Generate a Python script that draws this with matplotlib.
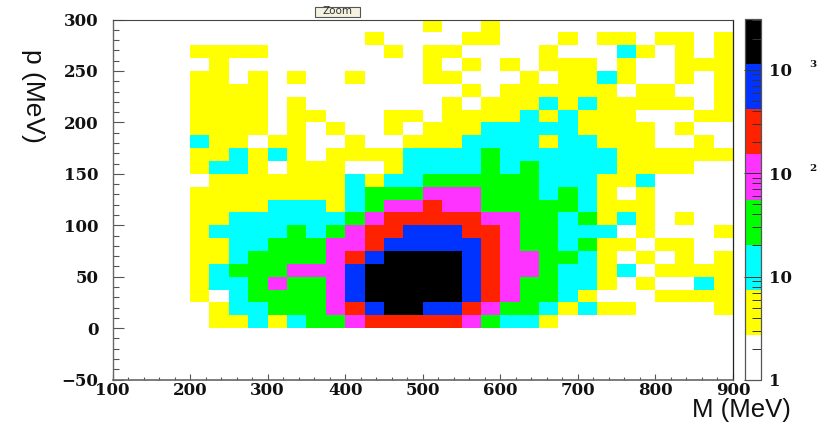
import numpy as np
import matplotlib
matplotlib.use("Agg")
import matplotlib.pyplot as plt
from matplotlib.colors import ListedColormap, LogNorm
from matplotlib.patches import Rectangle
from matplotlib.ticker import MultipleLocator, LogLocator, NullFormatter
from matplotlib.transforms import blended_transform_factory

# histogram binning (MeV)
x_edges = np.arange(200, 900 + 25, 25)
y_edges = np.arange(0, 300 + 12.5, 12.5)

# representative bin content for each colour level shown in the picture
level_counts = [0, 4, 12, 35, 100, 280, 750, 2000]

# colour level of each cell, top row (p = 287.5-300) first, M = 200...900
rows_top_down = [
    "0000000000001001000000000000",
    "0000000001" + "0000" + "11" + "000" + "1" + "0" + "11" + "0" + "11" + "0" + "1",
    "1111" + "000000" + "1" + "0" + "11" + "0000" + "1" + "000" + "2" + "1" + "0" + "1" + "0" + "1",
    "01" + "0000000000" + "1" + "0" + "1" + "0" + "1" + "0" + "111" + "0" + "1" + "00" + "111",
    "11" + "0" + "1" + "0" + "1" + "00" + "1" + "000" + "11" + "000" + "1" + "0" + "11" + "2" + "1" + "00" + "1" + "0" + "1",
    "1111" + "0000000000" + "1" + "0" + "111111" + "0" + "11" + "00" + "1",
    "1111" + "0" + "1" + "0000000" + "1" + "0" + "111" + "2" + "1" + "2" + "11111" + "0" + "1",
    "1111" + "0" + "11" + "000" + "11" + "0" + "1" + "111" + "2" + "1" + "2" + "111" + "000" + "11",
    "1111" + "0" + "1" + "0" + "1" + "00" + "1" + "0" + "11" + "1" + "22222" + "1111" + "0" + "1" + "00",
    "2" + "11" + "0" + "11" + "00" + "1" + "00" + "111" + "2222" + "1" + "22" + "111" + "00" + "1" + "0",
    "11" + "2" + "1" + "2" + "1" + "0" + "1111" + "222" + "2" + "3" + "222222" + "111111",
    "1" + "22" + "1" + "0" + "111" + "00" + "1" + "222" + "2" + "3" + "2" + "3" + "2222" + "1111" + "00",
    "0" + "1111111" + "2" + "1" + "22" + "333333" + "222" + "11" + "2" + "0000",
    "11111111" + "2" + "333" + "444" + "333" + "2" + "3" + "2" + "1" + "0" + "1" + "0000",
    "1111" + "222" + "1" + "2" + "3" + "44" + "5" + "44" + "33333" + "2" + "111" + "0000",
    "11" + "222222" + "3" + "4" + "5555" + "5" + "44" + "33" + "2" + "3" + "1" + "2" + "1" + "0" + "1" + "00",
    "1" + "2222" + "3" + "2" + "3" + "4" + "55" + "666" + "55" + "4" + "33" + "222" + "0" + "1" + "000" + "1",
    "11" + "22" + "333" + "44" + "5" + "6666" + "6" + "5" + "4" + "33" + "2" + "3" + "11" + "0" + "11" + "00",
    "11" + "2" + "3333" + "4" + "5" + "6" + "7777" + "6" + "5" + "44" + "33" + "2" + "1" + "0" + "1" + "0" + "1" + "0" + "1",
    "1" + "2" + "333" + "444" + "6" + "77777" + "6" + "5" + "44" + "3" + "22" + "1" + "2" + "0" + "1111",
    "1" + "22" + "3" + "4" + "33" + "4" + "6" + "77777" + "6" + "5" + "4" + "33" + "22" + "1" + "0" + "1" + "00" + "2" + "1",
    "1" + "0" + "2" + "3333" + "4" + "6" + "77777" + "6" + "5" + "4" + "33" + "2" + "1" + "000" + "1111",
    "0" + "1" + "22" + "333" + "4" + "5" + "6" + "77" + "66" + "5" + "4" + "33" + "2" + "1" + "2" + "11" + "0000" + "1",
    "0" + "11" + "2" + "1" + "2" + "33" + "4" + "55555" + "4" + "3" + "22" + "1" + "000000000",
]

# colour scale
level_colors = ["#ffffff", "#ffff00", "#00ffff", "#00ff00",
                "#ff33ff", "#ff2200", "#0033ff", "#000000"]
z_min, z_max = 1, 3090

x_ticks = [100, 200, 300, 400, 500, 600, 700, 800, 900]
y_ticks = [-50, 0, 50, 100, 150, 200, 250, 300]
y_tick_labels = ["\u221250", "0", "50", "100", "150", "200", "250", "300"]
z_ticks = [1, 10, 100, 1000]
z_tick_labels = ["1", "10", "10", "10"]

W, H = 830, 422
counts = np.array([[level_counts[int(c)] for c in r] for r in rows_top_down[::-1]], float)
masked = np.ma.masked_less_equal(counts, 0)

fig = plt.figure(figsize=(W / 100, H / 100), dpi=100)
ax = fig.add_axes([112.5 / W, 1 - 379.5 / H, (733 - 112.5) / W, (379.5 - 19.5) / H])
cax = fig.add_axes([744.5 / W, 1 - 380 / H, (760.5 - 744.5) / W, (380 - 19) / H])

cmap = ListedColormap(level_colors)
mesh = ax.pcolormesh(x_edges, y_edges, masked, cmap=cmap, norm=LogNorm(z_min, z_max),
                     edgecolors="none", linewidth=0)
ax.set_xlim(100, 900)
ax.set_ylim(-50, 300)

tick_font = dict(family=["DejaVu Serif"], fontweight="bold", fontsize=12, color="#111111")

ax.set_xticks(x_ticks)
ax.set_xticklabels([str(v) for v in x_ticks], **tick_font)
ax.set_yticks(y_ticks)
ax.set_yticklabels(y_tick_labels, **tick_font)
ax.xaxis.set_minor_locator(MultipleLocator(20))
ax.yaxis.set_minor_locator(MultipleLocator(10))
ax.tick_params(axis="x", which="major", direction="in", length=4, width=0.8, color="#555555", pad=1.5)
ax.tick_params(axis="x", which="minor", direction="in", length=2.2, width=0.8, color="#555555")
ax.tick_params(axis="y", which="major", direction="in", length=8, width=0.8, color="#555555", pad=10)
ax.tick_params(axis="y", which="minor", direction="in", length=4, width=0.8, color="#555555")
for side, col, lw in [("left", "#666666", 1.0), ("bottom", "#666666", 1.2),
                      ("top", "#444444", 0.8), ("right", "#222222", 0.9)]:
    ax.spines[side].set_color(col)
    ax.spines[side].set_linewidth(lw)

cb = fig.colorbar(mesh, cax=cax)
cb.outline.set_edgecolor("#555555")
cb.outline.set_linewidth(0.9)
cax.yaxis.set_ticks_position("right")
cax.set_yticks(z_ticks)
cax.set_yticklabels(z_tick_labels, **tick_font)
cax.yaxis.set_minor_locator(LogLocator(base=10, subs=range(2, 10)))
cax.yaxis.set_minor_formatter(NullFormatter())
cax.tick_params(axis="y", which="major", direction="in", length=12, width=0.7, color="#333333", pad=6)
cax.tick_params(axis="y", which="minor", direction="in", length=6.5, width=0.7, color="#333333")

tr = blended_transform_factory(cax.transAxes, cax.transData)
for val, exp in [(1000, "3"), (100, "2")]:
    cax.annotate(exp, xy=(1, val), xycoords=tr, xytext=(35, 3.5), textcoords="offset points",
                 ha="left", va="center", family="DejaVu Serif", fontweight="bold",
                 fontsize=7.5, color="#111111", annotation_clip=False)

fig.text(33 / W, 1 - 96 / H, "p (MeV)", rotation=270, ha="center", va="center",
         family="Liberation Sans", fontsize=19, color="#111111")
fig.text(741 / W, 1 - 410 / H, "M (MeV)", ha="center", va="center",
         family="Liberation Sans", fontsize=18.5, color="#111111")

fig.add_artist(Rectangle((315 / W, 1 - 17 / H), 45 / W, 10 / H, transform=fig.transFigure,
                         facecolor="#f5f3e0", edgecolor="#555555", linewidth=0.8))
fig.text(337.5 / W, 1 - 11.5 / H, "Zoom", ha="center", va="center", family="DejaVu Sans",
         fontsize=7.5, color="#333333")

fig.savefig("out.png", dpi=100)
